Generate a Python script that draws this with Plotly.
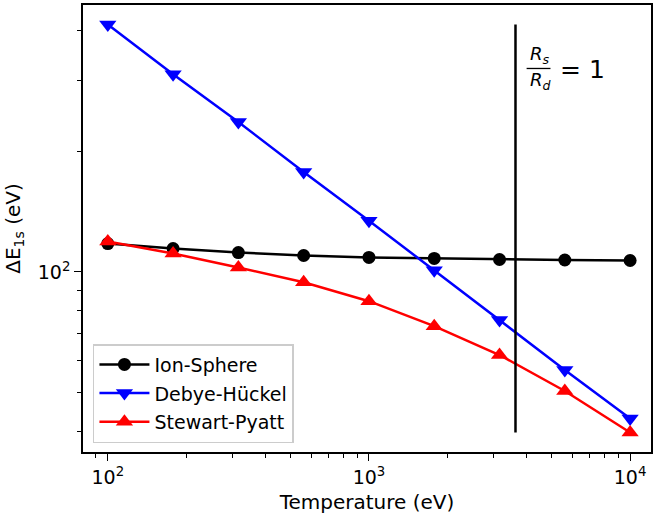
import plotly.graph_objects as go

temperature = [100, 177.8, 316.2, 562.3, 1000, 1778, 3162, 5623, 10000]
ion_sphere = [117.7, 114.4, 111.8, 109.9, 108.7, 108.1, 107.4, 107.1, 106.8]
debye_huckel = [415, 311.7, 236.8, 177.8, 134.3, 100.9, 75.8, 56.9, 43.0]
stewart_pyatt = [119.1, 111.2, 102.6, 94.2, 84.5, 73.2, 62.0, 50.4, 39.7]
rs_rd_one_T = 3640

x_ticks = [100, 1000, 10000]
x_ticktext = ["10<sup>2</sup>", "10<sup>3</sup>", "10<sup>4</sup>"]
x_minor = [v * m for v in [10, 100, 1000, 10000] for m in range(2, 10)]
y_ticks = [100]
y_ticktext = ["10<sup>2</sup>"]
y_minor = [v * m for v in [10, 100] for m in range(2, 10)]

font = "DejaVu Sans"
fig = go.Figure()
fig.add_trace(go.Scatter(x=temperature, y=ion_sphere, mode="lines+markers", name="Ion-Sphere",
                         legendgroup="a",
                         line=dict(color="black", width=2.5),
                         marker=dict(symbol="circle", size=13, color="black")))
fig.add_trace(go.Scatter(x=temperature, y=debye_huckel, mode="lines+markers", name="Debye-Hückel",
                         legendgroup="b",
                         line=dict(color="blue", width=2.5),
                         marker=dict(symbol="triangle-down", size=15, color="blue")))
fig.add_trace(go.Scatter(x=temperature, y=stewart_pyatt, mode="lines+markers", name="Stewart-Pyatt",
                         legendgroup="c",
                         line=dict(color="red", width=2.5),
                         marker=dict(symbol="triangle-up", size=15, color="red")))
all_y = ion_sphere + debye_huckel + stewart_pyatt
fig.add_trace(go.Scatter(x=[rs_rd_one_T, rs_rd_one_T], y=[min(all_y), max(all_y)], mode="lines",
                         line=dict(color="black", width=2.5), showlegend=False, hoverinfo="skip"))

axis_common = dict(type="log", showgrid=False, zeroline=False, showline=True, linecolor="black",
                   linewidth=1.6, mirror=True, ticks="outside", ticklen=7, tickwidth=1.4,
                   tickcolor="black", tickfont=dict(family=font, size=19, color="black"))
fig.update_xaxes(**axis_common, range=[1.905, 4.08], tickvals=x_ticks, ticktext=x_ticktext,
                 minor=dict(tickvals=x_minor, ticks="outside", ticklen=4, tickwidth=1.1, tickcolor="black"),
                 title=dict(text="Temperature (eV)", font=dict(family=font, size=20, color="black"), standoff=8))
fig.update_yaxes(**axis_common, range=[1.55, 2.667], tickvals=y_ticks, ticktext=y_ticktext,
                 minor=dict(tickvals=y_minor, ticks="outside", ticklen=4, tickwidth=1.1, tickcolor="black"),
                 title=dict(text="ΔE<sub>1s</sub> (eV)", font=dict(family=font, size=20, color="black"), standoff=12))

fig.add_annotation(xref="paper", yref="paper", x=0.804, y=0.888, xanchor="center", yanchor="middle",
                   text="<i>R<sub>s</sub></i>", showarrow=False, font=dict(family=font, size=18, color="black"))
fig.add_annotation(xref="paper", yref="paper", x=0.806, y=0.83, xanchor="center", yanchor="middle",
                   text="<i>R<sub>d</sub></i>", showarrow=False, font=dict(family=font, size=18, color="black"))
fig.add_shape(type="line", xref="paper", yref="paper", x0=0.781, x1=0.823, y0=0.858, y1=0.858,
              line=dict(color="black", width=1.3))
fig.add_annotation(xref="paper", yref="paper", x=0.836, y=0.856, xanchor="left", yanchor="middle",
                   text="= 1", showarrow=False, font=dict(family=font, size=25, color="black"))

fig.update_layout(width=656, height=520, margin=dict(l=83, r=3, t=3, b=68),
                  plot_bgcolor="white", paper_bgcolor="white",
                  font=dict(family=font, size=18, color="black"),
                  legend=dict(x=0.0175, y=0.02, xanchor="left", yanchor="bottom",
                              bgcolor="white", bordercolor="#cccccc", borderwidth=1.5,
                              font=dict(family=font, size=19, color="black"), itemwidth=50,
                              tracegroupgap=1))
fig.write_html("out.html")
